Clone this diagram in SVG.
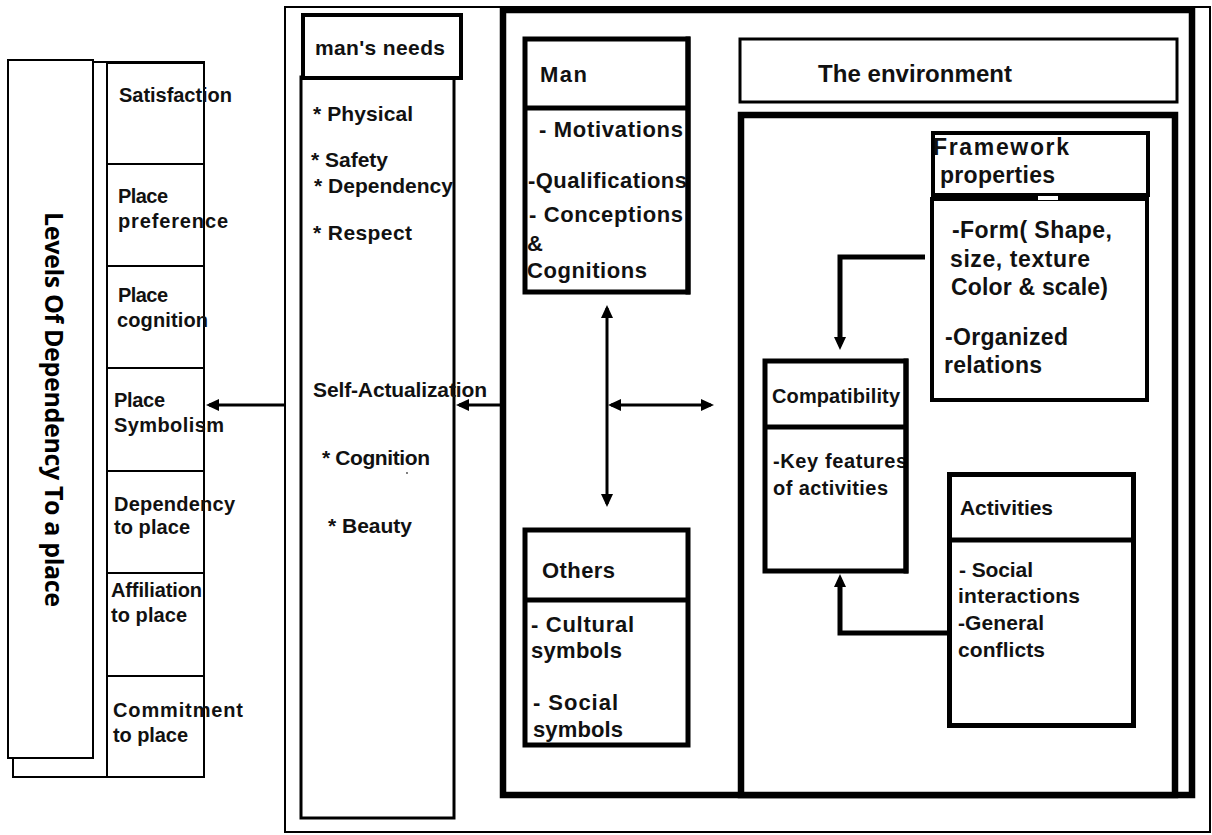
<svg xmlns="http://www.w3.org/2000/svg" width="1212" height="835" viewBox="0 0 1212 835">
<defs>
<style>
.t{font-family:"Liberation Sans",Arial,sans-serif;font-weight:bold;fill:#111;}
.s18{font-size:20px;}
.s20{font-size:20px;}
.s21{font-size:21px;}
.s22{font-size:22px;}
.s23{font-size:23px;}
.s24{font-size:24px;}
.box{fill:#fff;stroke:#000;}
.thin{stroke-width:2;}
.m3{stroke-width:3;}
.m4{stroke-width:4;}
.m5{stroke-width:5;}
.k6{stroke-width:6.5;}
.ln{fill:none;stroke:#000;}
.lab{font-family:"Open Sans","Noto Sans",sans-serif;font-weight:bold;font-size:25px;fill:#000;}
</style>
<marker id="ah" viewBox="0 0 13 12" refX="10" refY="6" markerWidth="13" markerHeight="12" markerUnits="userSpaceOnUse" orient="auto-start-reverse">
<path d="M0,0 L13,6 L0,12 z" fill="#000"/>
</marker>
<marker id="ahT" viewBox="0 0 13 12" refX="7" refY="6" markerWidth="13" markerHeight="12" markerUnits="userSpaceOnUse" orient="auto-start-reverse">
<path d="M0,0 L13,6 L0,12 z" fill="#000"/>
</marker>
</defs>
<rect width="1212" height="835" fill="#fff"/>

<g id="levels-column">
<rect class="box thin" x="13" y="62" width="191" height="715"/>
<rect class="box thin" x="107" y="63" width="97" height="101"/>
<rect class="box thin" x="107" y="164" width="97" height="102"/>
<rect class="box thin" x="107" y="266" width="97" height="102"/>
<rect class="box thin" x="107" y="368" width="97" height="103"/>
<rect class="box thin" x="107" y="471" width="97" height="102"/>
<rect class="box thin" x="107" y="573" width="97" height="103"/>
<rect class="box thin" x="107" y="676" width="97" height="101"/>
<rect class="box thin" x="8" y="60" width="85" height="698"/>
<text class="lab" transform="translate(45,212) rotate(90)" textLength="395" lengthAdjust="spacing">Levels Of Dependency To a place</text>
<text class="t s18" x="119" y="102" textLength="113">Satisfaction</text>
<text class="t s18" x="118" y="203" textLength="50">Place</text>
<text class="t s18" x="118" y="228" textLength="110">preference</text>
<text class="t s18" x="118" y="302" textLength="50">Place</text>
<text class="t s18" x="117" y="327" textLength="91">cognition</text>
<text class="t s18" x="114" y="407" textLength="51">Place</text>
<text class="t s18" x="114" y="432" textLength="110">Symbolism</text>
<text class="t s18" x="114" y="511" textLength="121">Dependency</text>
<text class="t s18" x="114" y="534" textLength="76">to place</text>
<text class="t s18" x="111" y="597" textLength="91">Affiliation</text>
<text class="t s18" x="111" y="622" textLength="76">to place</text>
<text class="t s18" x="113" y="717" textLength="130">Commitment</text>
<text class="t s18" x="113" y="742" textLength="75">to place</text>
</g>

<g id="outer-frame">
<rect class="box thin" x="285" y="7" width="925" height="825"/>
</g>

<g id="mans-needs">
<rect class="box m3" x="301" y="77" width="153" height="741"/>
<rect class="box m4" x="303" y="15" width="158" height="63"/>
<text class="t s21" x="315" y="55" textLength="130">man's needs</text>
<text class="t s21" x="313" y="121" textLength="100">* Physical</text>
<text class="t s21" x="311" y="167" textLength="77">* Safety</text>
<text class="t s21" x="314" y="193" textLength="139">* Dependency</text>
<text class="t s21" x="313" y="240" textLength="99">* Respect</text>
<text class="t s21" x="313" y="397" textLength="174">Self-Actualization</text>
<text class="t s21" x="322" y="465" textLength="108">* Cognition</text>
<circle cx="407" cy="473" r="0.9" fill="#444"/>
<text class="t s21" x="328" y="533" textLength="84">* Beauty</text>
</g>

<g id="center-frame">
<rect class="box k6" x="503" y="10" width="689" height="785"/>
</g>

<g id="man">
<rect class="box m5" x="525" y="39" width="163" height="253"/>
<line class="ln m5" x1="525" y1="108" x2="688" y2="108"/>
<text class="t s22" x="540" y="82" textLength="47">Man</text>
<text class="t s22" x="539" y="137" textLength="144">- Motivations</text>
<text class="t s22" x="528" y="188" textLength="159">-Qualifications</text>
<text class="t s22" x="529" y="222" textLength="154">- Conceptions</text>
<text class="t s22" x="527" y="251">&amp;</text>
<text class="t s22" x="527" y="278" textLength="120">Cognitions</text>
<line class="ln m5" x1="688" y1="36.5" x2="688" y2="294.5"/>
</g>

<g id="others">
<rect class="box m5" x="525" y="530" width="163" height="215"/>
<line class="ln m5" x1="525" y1="600" x2="688" y2="600"/>
<text class="t s22" x="542" y="578" textLength="73">Others</text>
<text class="t s22" x="531" y="632" textLength="103">- Cultural</text>
<text class="t s22" x="531" y="658" textLength="91">symbols</text>
<text class="t s22" x="533" y="710" textLength="85">- Social</text>
<text class="t s22" x="533" y="737" textLength="90">symbols</text>
</g>

<g id="environment">
<rect class="box m3" x="740" y="39" width="437" height="63"/>
<text class="t s24" x="818" y="82" textLength="194">The environment</text>
</g>

<g id="environment-frame">
<rect class="box k6" x="741" y="115" width="434" height="680"/>
</g>

<g id="framework-properties">
<rect class="box m4" x="933" y="133" width="215" height="62"/>
<rect class="box m4" x="932" y="199" width="215" height="201"/>
<rect x="1038" y="196" width="20" height="4" fill="#fff"/>
<text class="t s23" x="933" y="155" textLength="136">Framework</text>
<text class="t s23" x="940" y="183" textLength="115">properties</text>
<text class="t s23" x="952" y="238" textLength="160">-Form( Shape,</text>
<text class="t s23" x="950" y="267" textLength="140">size, texture</text>
<text class="t s23" x="951" y="295" textLength="157">Color &amp; scale)</text>
<text class="t s23" x="945" y="345" textLength="123">-Organized</text>
<text class="t s23" x="944" y="373" textLength="98">relations</text>
</g>

<g id="compatibility">
<rect class="box m5" x="765" y="361" width="141" height="210"/>
<line class="ln m5" x1="765" y1="427" x2="906" y2="427"/>
<text class="t s20" x="772" y="403" textLength="128">Compatibility</text>
<text class="t s20" x="773" y="468" textLength="134">-Key features</text>
<text class="t s20" x="773" y="495" textLength="115">of activities</text>
<line class="ln m5" x1="906" y1="358.5" x2="906" y2="573.5"/>
</g>

<g id="activities">
<rect class="box m5" x="949.5" y="474.5" width="184" height="251"/>
<line class="ln m5" x1="949.5" y1="540" x2="1133.5" y2="540"/>
<text class="t s21" x="960" y="515" textLength="93">Activities</text>
<text class="t s21" x="959" y="577" textLength="74">- Social</text>
<text class="t s21" x="958" y="603" textLength="122">interactions</text>
<text class="t s21" x="958" y="630" textLength="86">-General</text>
<text class="t s21" x="958" y="657" textLength="87">conflicts</text>
</g>

<g id="connectors">
<path class="ln m5" d="M925,257 H840 V344" marker-end="url(#ahT)"/>
<path class="ln m5" d="M947,633 H840 V580" marker-end="url(#ahT)"/>
<path class="ln m3" d="M503,405 H459" marker-end="url(#ah)"/>
<path class="ln m3" d="M285,405 H209" marker-end="url(#ah)"/>
<path class="ln m3" d="M607,308 V504" marker-start="url(#ah)" marker-end="url(#ah)"/>
<path class="ln m3" d="M611,405 H711" marker-start="url(#ah)" marker-end="url(#ah)"/>
</g>
</svg>
